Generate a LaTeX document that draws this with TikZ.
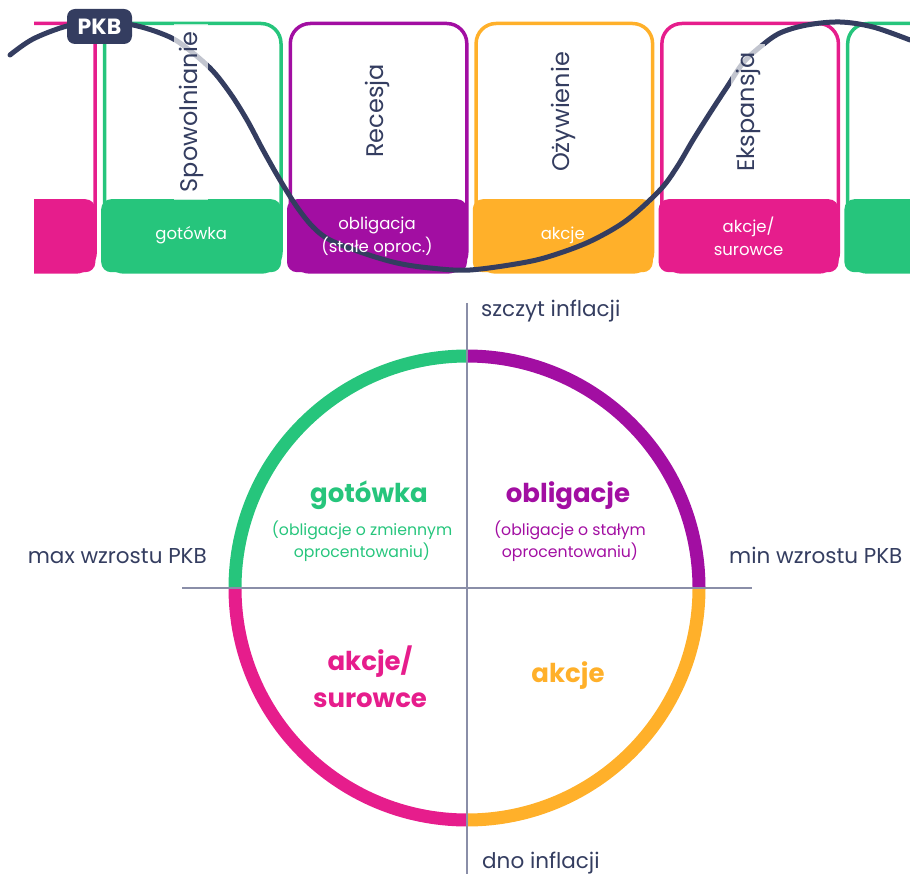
\documentclass[tikz,border=0pt]{standalone}
\usepackage{fontspec}
\setmainfont{Poppins}
\usepackage{tikz}
\definecolor{cgreen}{RGB}{38,197,124}
\definecolor{cpurple}{RGB}{162,14,162}
\definecolor{corange}{RGB}{255,176,42}
\definecolor{cpink}{RGB}{230,29,140}
\definecolor{cnavy}{RGB}{52,61,96}
\definecolor{caxis}{RGB}{138,142,168}
\usetikzlibrary{positioning}

\begin{document}
\begin{tikzpicture}[x=1pt,y=1pt,
  panel/.style={draw=#1,line width=3.5pt,rounded corners=20pt,
        minimum width=176.5pt,minimum height=248.5pt,anchor=north west,inner sep=0pt},
  assetbox/.style={fill=#1,rounded corners=10pt,minimum width=180pt,minimum height=73pt,
        anchor=north west,inner sep=0pt},
  assettext/.style={text=white,align=center,inner sep=0pt,font=\fontsize{16.5}{23}\selectfont},
  phase/.style={rotate=90,text=cnavy,font=\fontsize{24}{28}\selectfont,
        fill=white,fill opacity=0.7,text opacity=1,inner xsep=8pt,inner ysep=5pt},
  pkb/.style={fill=cnavy,rounded corners=8pt,minimum width=65pt,minimum height=35pt,
        inner sep=0pt,text=white,font=\fontsize{22}{24}\selectfont\bfseries},
  ring/.style={draw=#1,line width=13pt},
  axis/.style={draw=caxis,line width=1.5pt},
  axislabel/.style={text=cnavy,font=\fontsize{21.5}{24}\selectfont,inner sep=0pt},
  assettitle/.style={text=#1,font=\fontsize{26}{37}\selectfont\bfseries,align=center,inner sep=0pt},
  assetnote/.style={text=#1,font=\fontsize{15.7}{22}\selectfont,align=center,inner sep=0pt}]
  \useasboundingbox (0,0) rectangle (910,-874);

  % Phase panels
  \begin{scope}
    \clip (34,0) rectangle (910,-290);
    \node[panel=cpink]   (ekspL)  at (-83.05,-21.75) {};
    \node[panel=cgreen]  (spow)   at (102.75,-21.75) {};
    \node[panel=cpurple] (rec)    at (288.55,-21.75) {};
    \node[panel=corange] (ozyw)   at (474.35,-21.75) {};
    \node[panel=cpink]   (eksp)   at (660.15,-21.75) {};
    \node[panel=cgreen]  (spowR)  at (845.95,-21.75) {};
    % Asset boxes
    \node[assetbox=cpink]   (surL)  at (-84.8,-199) {};
    \node[assetbox=cgreen]  (gotb)  at (101,-199) {};
    \node[assetbox=cpurple] (oblb)  at (286.8,-199) {};
    \node[assetbox=corange] (akcb)  at (472.6,-199) {};
    \node[assetbox=cpink]   (surb)  at (658.4,-199) {};
    \node[assetbox=cgreen]  (gotR)  at (844.2,-199) {};
  \end{scope}

  % PKB curve
  \draw[cnavy,line width=5pt,line cap=round] plot[smooth,tension=0.55] coordinates {
    (10,-55) (33,-39) (67,-26) (100,-21) (133,-25) (160,-33) (180,-43) (210,-68)
    (230,-93) (247,-120) (263,-150) (280,-180) (297,-207) (313,-227) (330,-240)
    (363,-253) (397,-263) (430,-268) (470,-270) (527,-262) (560,-253) (593,-240)
    (627,-220) (660,-190) (677,-167) (693,-140) (710,-113) (727,-87) (743,-63)
    (760,-47) (780,-33) (807,-25) (840,-22) (873,-27) (910,-40)};

  % Asset box texts
  \node[assettext] (gott) at (gotb.center) {gotówka};
  \node[assettext] (oblt) at ([yshift=-1pt]oblb.center) {obligacja\\(stałe oproc.)};
  \node[assettext] (akct) at (akcb.center) {akcje};
  \node[assettext] (surt) at ([yshift=-1pt]surb.center) {akcje/\\surowce};

  % Phase labels
  \node[phase] (spowt) at (191,-112) {Spowolnianie};
  \node[phase] (rect)  at (377,-111) {Recesja};
  \node[phase] (ozywt) at (563,-112) {Ożywienie};
  \node[phase] (ekspt) at (748,-112) {Ekspansja};
  \node[pkb]   (pkbt)  at (99.5,-26.5) {PKB};

  % Inflation / growth cross
  \coordinate (c)    at (467,-588);
  \coordinate (vtop) at (467,-303);
  \coordinate (vbot) at (467,-874);
  \coordinate (hl)   at (182,-588);
  \coordinate (hr)   at (752,-588);
  \draw[ring=cpurple] ([shift={(0:232)}]c)   arc[start angle=0,end angle=90,radius=232];
  \draw[ring=cgreen]  ([shift={(90:232)}]c)  arc[start angle=90,end angle=180,radius=232];
  \draw[ring=cpink]   ([shift={(180:232)}]c) arc[start angle=180,end angle=270,radius=232];
  \draw[ring=corange] ([shift={(270:232)}]c) arc[start angle=270,end angle=360,radius=232];
  \draw[axis] (vtop) -- (vbot);
  \draw[axis] (hl) -- (hr);

  % Axis labels
  \node[axislabel,anchor=base west] (szczyt) at (481,-317) {szczyt inflacji};
  \node[axislabel,anchor=base west] (dno)    at (482,-868) {dno inflacji};
  \node[axislabel,anchor=base east] (maxp)   at (207,-563) {max wzrostu PKB};
  \node[axislabel,anchor=base west] (minp)   at (729,-563) {min wzrostu PKB};

  % Quadrant assets
  \node[assettitle=cgreen,anchor=base]  (gotq)  at (369,-502) {gotówka};
  \node[assetnote=cgreen]               (gotn)  at (362,-541) {(obligacje o zmiennym\\oprocentowaniu)};
  \node[assettitle=cpurple,anchor=base] (oblq)  at (568,-502) {obligacje};
  \node[assetnote=cpurple]              (obln)  at (570,-541) {(obligacje o stałym\\oprocentowaniu)};
  \node[assettitle=cpink]               (akcsq) at (370,-677) {akcje/\\surowce};
  \node[assettitle=corange,anchor=base] (akcq)  at (568,-682) {akcje};
\end{tikzpicture}
\end{document}
